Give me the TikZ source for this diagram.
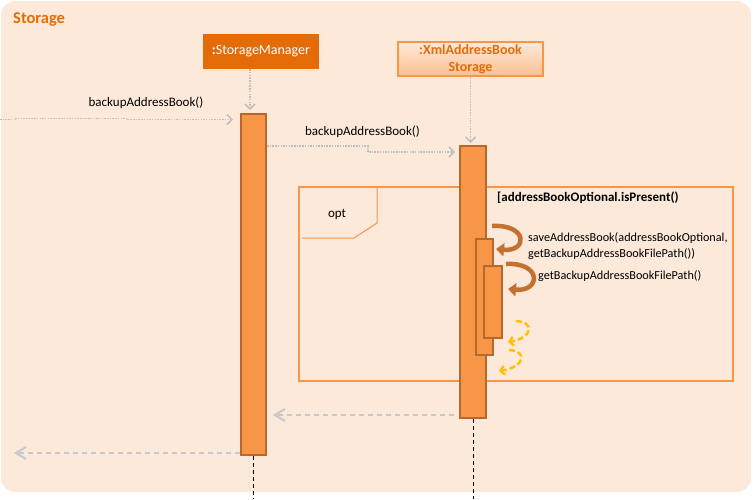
\documentclass[tikz,border=0pt]{standalone}
\usepackage{fontspec}
\setmainfont{Carlito}
\usetikzlibrary{arrows.meta}
\definecolor{bgc}{HTML}{FCE9DA}
\definecolor{accent}{HTML}{F79646}
\definecolor{darkor}{HTML}{E36C09}
\definecolor{barline}{HTML}{B8672D}
\definecolor{msgc}{HTML}{BFBFBF}
\definecolor{retc}{HTML}{C8C8C8}
\definecolor{selfc}{HTML}{C4702E}
\definecolor{yel}{HTML}{FFC000}
\definecolor{xastop}{HTML}{FDE9D9}
\definecolor{xasbot}{HTML}{FAC090}
\begin{document}
\begin{tikzpicture}[x=1pt,y=-1pt,
  actbar/.style={draw=barline,fill=accent,line width=2pt,inner sep=0pt},
  msgtext/.style={font=\fontsize{13}{16}\selectfont,inner sep=0pt},
  selftext/.style={font=\fontsize{12.2}{16}\selectfont,inner sep=0pt},
  callarrow/.style={draw=msgc,line width=1.5pt,dash pattern=on 1.5pt off 1.2pt,-{Straight Barb[length=5pt,width=10pt,line width=1.5pt]}},
  retarrow/.style={draw=retc,line width=2pt,dash pattern=on 5pt off 4pt,-{Straight Barb[length=10pt,width=12pt,line width=2pt]}},
  lifeline/.style={draw=black,line width=0.7pt,dash pattern=on 4pt off 3pt},
  selfarrow/.style={draw=selfc,line width=4.5pt,-{Triangle[length=8pt,width=13pt]}},
  yelarrow/.style={draw=yel,line width=2.4pt,dash pattern=on 6pt off 3pt,-{Straight Barb[length=4pt,width=9pt,line width=2.2pt]}}]
\useasboundingbox (0,0) rectangle (754,499);
\fill[bgc,rounded corners=14pt] (1,1) rectangle (751,492);
\node[anchor=west,text=darkor,font=\fontsize{16.5}{19}\selectfont\bfseries,inner sep=0pt] (title) at (13,19.5) {Storage};

% participants
\node[fill=darkor,text=white,minimum width=116pt,minimum height=35pt,inner sep=0pt,font=\fontsize{14}{17}\selectfont] (sm) at (261,51.5) {\textbf{:}StorageManager};
\node[draw=accent,line width=2pt,top color=xastop,bottom color=xasbot,minimum width=145pt,minimum height=34pt,inner sep=0pt,align=center,text=darkor,font=\fontsize{14}{17}\selectfont\bfseries] (xas) at (470.5,59) {:XmlAddressBook\\Storage};

% opt frame
\node[draw=accent,line width=2pt,minimum width=434pt,minimum height=194pt,inner sep=0pt] (opt) at (516,284) {};
\draw[accent,line width=1pt] (377,188) -- (377,223) -- (354,238) -- (302,238);
\node[msgtext] (optlbl) at (337,214) {opt};
\node[msgtext,anchor=west,font=\fontsize{13}{16}\selectfont\bfseries] (guard) at (497,198) {[addressBookOptional.isPresent()};

% activation bars
\node[actbar,minimum width=25pt,minimum height=341pt] (smbar) at (253.5,284.5) {};
\node[actbar,minimum width=26pt,minimum height=272pt] (xbar) at (473,282) {};
\node[actbar,minimum width=17pt,minimum height=116pt] (nb1) at (484.5,297) {};
\node[actbar,minimum width=18pt,minimum height=72pt] (nb2) at (493,302) {};

% lifelines to bars
\coordinate (smll) at (250,0);
\draw[callarrow,shorten >=3pt] (sm.south -| smll) -- (smbar.north -| smll);
\draw[callarrow,shorten >=2pt] (xas.south) -- (xbar.north -| xas.south);

% lifelines below bars
\coordinate (bottom) at (0,499);
\draw[lifeline] (smbar.south) -- (smbar.south |- bottom);
\draw[lifeline] (xbar.south) -- (xbar.south |- bottom);

% incoming message
\coordinate (in0) at (0,119.5);
\coordinate (m1a) at (15,119.5);
\coordinate (m1b) at (128,118.5);
\draw[callarrow,shorten >=7pt] (in0) -- (m1a) -- (m1a |- m1b) -- (m1b) -- (m1b |- in0) -- (in0 -| smbar.west);
\node[msgtext] (m1lbl) at (146,103) {backupAddressBook()};

% message to XmlAddressBookStorage
\coordinate (m2a) at (0,146);
\coordinate (m2step) at (368,146);
\coordinate (m2b) at (0,152);
\draw[callarrow,shorten >=4pt] (smbar.east |- m2a) -- (m2step) -- (m2step |- m2b) -- (xbar.west |- m2b);
\node[msgtext] (m2lbl) at (362.5,132) {backupAddressBook()};

% self calls
\coordinate (s1a) at (492,226);
\coordinate (s1b) at (496,249);
\draw[selfarrow] (s1a) .. controls (528,224) and (528,252) .. (s1b);
\node[selftext,anchor=west,align=left] (s1lbl) at (528,246) {saveAddressBook(addressBookOptional,\\getBackupAddressBookFilePath())};
\coordinate (s2a) at (506,264);
\coordinate (s2b) at (508,289);
\draw[selfarrow] (s2a) .. controls (542,262) and (541,292) .. (s2b);
\node[selftext,anchor=west] (s2lbl) at (538,276) {getBackupAddressBookFilePath()};

% yellow returns
\coordinate (y1a) at (516,321);
\coordinate (y1b) at (508,342);
\draw[yelarrow] (y1a) .. controls (535,322) and (533,338) .. (y1b);
\coordinate (y2a) at (509,350);
\coordinate (y2b) at (499,371);
\draw[yelarrow] (y2a) .. controls (528,351) and (525,367) .. (y2b);

% returns
\coordinate (r1) at (0,415);
\draw[retarrow,shorten <=5pt,shorten >=6pt] (xbar.west |- r1) -- (smbar.east |- r1);
\coordinate (out0) at (14,453);
\draw[retarrow] (smbar.west |- out0) -- (out0);
\end{tikzpicture}
\end{document}
